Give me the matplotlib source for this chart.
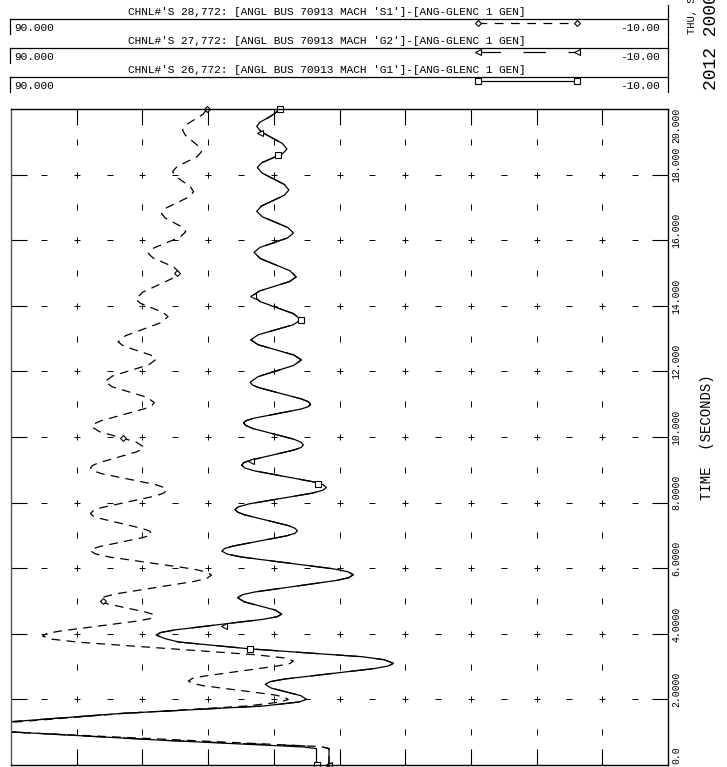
import matplotlib
matplotlib.use("Agg")
import matplotlib.pyplot as plt
from matplotlib.transforms import blended_transform_factory

W, H = 727, 767
MONO = "Liberation Mono"

# ---- channel 26: G1 (solid, squares) ; time [s] / angle [deg]
g1_t = [0.00, 0.50, 0.55, 0.75, 1.01, 1.16, 1.32, 1.57, 1.80, 1.92, 2.00,
        2.115, 2.23, 2.345, 2.46, 2.54, 2.62, 2.78, 2.94, 3.02, 3.10, 3.21, 3.30,
        3.54, 3.75, 3.85, 3.96, 4.04, 4.12, 4.28, 4.44, 4.52, 4.60, 4.725, 4.85,
        4.975, 5.10, 5.19, 5.275, 5.45, 5.625, 5.71, 5.80, 5.89, 5.98, 6.16, 6.34,
        6.43, 6.52, 6.60, 6.675, 6.83, 6.985, 7.06, 7.14, 7.22, 7.30, 7.465, 7.63,
        7.71, 7.79, 7.87, 7.96, 8.125, 8.29, 8.38, 8.46, 8.545, 8.63, 8.80, 8.97,
        9.055, 9.14, 9.22, 9.295, 9.45, 9.605, 9.68, 9.76, 9.84, 9.93, 10.095,
        10.26, 10.35, 10.43, 10.50, 10.57, 10.71, 10.85, 10.92, 10.99, 11.075,
        11.16, 11.33, 11.50, 11.585,
        11.67, 11.84, 12.01, 12.18, 12.35, 12.50, 12.655, 12.81, 12.96, 13.115,
        13.27, 13.425, 13.58, 13.76, 13.945, 14.13, 14.31, 14.45, 14.595, 14.74,
        14.88, 15.07, 15.255, 15.44, 15.63, 15.78, 15.925, 16.07, 16.22, 16.385,
        16.55, 16.715, 16.88, 17.04, 17.205, 17.37, 17.53, 17.70, 17.875, 18.05,
        18.22, 18.36, 18.50, 18.64, 18.78, 18.95, 19.125, 19.30, 19.47, 19.60,
        19.735, 19.87, 20.00]
g1_a = [43.5, 43.5, 45.5, 66.5, 90.0, 104.0, 90.0, 73.4, 51.5, 46.2, 45.0,
        45.9, 48.15, 50.4, 51.3, 50.56, 48.4, 41.55, 34.7, 32.54, 31.8, 33.2, 36.5,
        53.6, 64.5, 66.5, 67.9, 67.2, 65.0, 58.35, 51.7, 49.5, 48.8, 49.8, 52.15,
        54.5, 55.5, 54.8, 52.9, 46.7, 40.5, 38.6, 37.9, 38.7, 40.9, 47.9, 54.9,
        57.1, 57.9, 57.5, 56.2, 52.15, 48.1, 46.8, 46.4, 46.8, 47.8, 51.15, 54.5,
        55.5, 55.9, 55.4, 53.8, 48.95, 44.1, 42.5, 42.0, 42.5, 43.9, 48.45, 53.0,
        54.4, 54.9, 54.55, 53.5, 50.2, 46.9, 45.85, 45.5, 45.85, 46.9, 50.05,
        53.2, 54.25, 54.6, 54.2, 53.1, 49.5, 45.9, 44.8, 44.4, 44.75,
        45.8, 49.0, 52.2, 53.25,
        53.6, 52.4, 49.7, 47.0, 45.8, 46.95, 49.65, 52.35, 53.5, 52.4,
        49.7, 47.0, 45.9, 47.0, 49.55, 52.1, 53.2, 52.2, 49.9, 47.6,
        46.6, 47.55, 49.8, 52.05, 53.0, 52.1, 50.0, 47.9, 47.0, 47.85,
        49.8, 51.75, 52.6, 51.9, 50.15, 48.4, 47.7, 48.4, 50.1, 51.8,
        52.5, 51.85, 50.25, 48.65, 48.0, 48.7, 50.3, 51.9, 52.6, 52.1,
        50.85, 49.8, 49.1]
g1_mark_t = [0.00, 3.54, 8.57, 13.58, 18.59, 20.00]
g1_mark_a = [43.5, 53.6, 43.2, 45.9, 49.3, 49.1]

# ---- channel 27: G2 (long dash, triangles) - starts apart, then on top of G1
g2_t0 = [0.00, 0.50, 0.56]
g2_a0 = [41.6, 41.6, 42.8]
g2_mark_t = [0.00, 4.24, 9.27, 14.31, 19.28]
g2_mark_a = [41.6, 57.6, 53.4, 53.2, 52.1]

# ---- channel 28: S1 (dashed, diamonds)
s1_t = [0.00, 0.50, 0.56, 0.78, 1.00, 1.15, 1.30, 1.57, 1.80, 1.92, 2.00,
        2.07, 2.14, 2.28, 2.42, 2.49, 2.56, 2.64, 2.71, 2.865, 3.02, 3.09, 3.17,
        3.265, 3.36, 3.55, 3.74, 3.835, 3.93, 4.01, 4.08, 4.235, 4.39, 4.46, 4.54,
        4.60, 4.66, 4.785, 4.91, 4.97, 5.03, 5.125, 5.22, 5.41, 5.60, 5.695, 5.79,
        5.88, 5.975, 6.16, 6.345, 6.44, 6.53, 6.595, 6.66, 6.795, 6.93, 6.995, 7.06,
        7.135, 7.21, 7.365, 7.52, 7.595, 7.67, 7.76, 7.85, 8.025, 8.20, 8.29, 8.38,
        8.465, 8.55, 8.715, 8.88, 8.965, 9.05, 9.13, 9.21, 9.375, 9.54, 9.62, 9.70,
        9.85, 10.005, 10.16, 10.31, 10.40, 10.495, 10.68, 10.865, 10.96, 11.05,
        11.21, 11.37,
        11.53, 11.69, 11.86, 12.03, 12.20, 12.37, 12.50, 12.635, 12.77, 12.90,
        13.09, 13.285, 13.48, 13.67, 13.80, 13.935, 14.07, 14.20, 14.41, 14.62,
        14.83, 15.04, 15.18, 15.32, 15.46, 15.60, 15.765, 15.93, 16.095, 16.26,
        16.40, 16.54, 16.68, 16.82, 16.985, 17.15, 17.315, 17.48, 17.63, 17.785,
        17.94, 18.09, 18.24, 18.395, 18.55, 18.70, 18.865, 19.03, 19.195, 19.36,
        19.52, 19.68, 19.84, 20.00]
s1_a = [41.6, 41.6, 42.8, 66.0, 90.0, 104.0, 90.0, 73.0, 54.0, 49.0, 47.8,
        48.4, 50.0, 55.4, 60.8, 62.4, 63.0, 62.4, 60.6, 55.0, 49.4, 47.6, 47.0,
        48.45, 52.7, 66.1, 79.5, 83.75, 85.2, 84.55, 82.65, 76.7, 70.75, 68.85, 68.2,
        68.5, 69.45, 72.35, 75.25, 76.2, 76.5, 75.85, 73.95, 68.0, 62.05, 60.15, 59.5,
        60.2, 62.25, 68.7, 75.15, 77.2, 77.9, 77.55, 76.5, 73.25, 70.0, 68.95, 68.6,
        68.95, 70.0, 73.25, 76.5, 77.55, 77.9, 77.45, 76.15, 72.1, 68.05, 66.75, 66.3,
        66.75, 68.05, 72.1, 76.15, 77.45, 77.9, 77.6, 76.7, 73.85, 71.0, 70.1, 69.8,
        71.0, 73.75, 76.5, 77.7, 77.35, 76.3, 72.95, 69.6, 68.55, 68.2,
        69.3, 71.95,
        74.6, 75.7, 74.55, 71.8, 69.05, 67.9, 68.75, 70.8, 72.85, 73.7,
        72.55, 69.9, 67.25, 66.1, 66.85, 68.55, 70.25, 71.0, 70.0, 67.75,
        65.5, 64.5, 65.2, 66.8, 68.4, 69.1, 68.25, 66.25, 64.25, 63.4,
        63.95, 65.25, 66.55, 67.1, 66.35, 64.65, 62.95, 62.2, 62.7, 63.8,
        64.9, 65.4, 64.75, 63.2, 61.65, 61.0, 61.45, 62.45, 63.45, 63.9,
        63.35, 62.05, 60.75, 60.2]
s1_mark_t = [0.00, 5.00, 9.98, 14.99, 20.00]
s1_mark_a = [41.6, 76.0, 73.0, 64.8, 60.2]

time_ticks = [0, 2, 4, 6, 8, 10, 12, 14, 16, 18, 20]
time_labels = ["0.0", "2.0000", "4.0000", "6.0000", "8.0000", "10.000",
               "12.000", "14.000", "16.000", "18.000", "20.000"]
ang_ticks = [80, 70, 60, 50, 40, 30, 20, 10, 0]

channels = [
    "CHNL#'S 28,772: [ANGL BUS 70913 MACH 'S1']-[ANG-GLENC 1 GEN]",
    "CHNL#'S 27,772: [ANGL BUS 70913 MACH 'G2']-[ANG-GLENC 1 GEN]",
    "CHNL#'S 26,772: [ANGL BUS 70913 MACH 'G1']-[ANG-GLENC 1 GEN]",
]
scale_hi, scale_lo = "90.000", "-10.00"

fig = plt.figure(figsize=(W / 100, H / 100), dpi=100)

# header drawn in pixel units on a full-figure overlay
hdr = fig.add_axes([0, 0, 1, 1])
hdr.set_xlim(0, W)
hdr.set_ylim(H, 0)
hdr.axis("off")
lw = 0.9
for i, name in enumerate(channels):
    y0 = 19 + 29 * i
    hdr.plot([10, 668], [y0, y0], color="black", lw=lw)
    hdr.plot([10, 10], [y0, y0 + 15], color="black", lw=lw)
    hdr.plot([668, 668], [y0 - 14, y0 + 15], color="black", lw=lw)
    hdr.text(128, y0 - 2, name, fontsize=8, family=MONO, va="bottom")
    hdr.text(14, y0 + 9, scale_hi, fontsize=8, family=MONO, va="center")
    hdr.text(660, y0 + 9, scale_lo, fontsize=8, family=MONO, va="center", ha="right")

# legend samples
ly = [23, 52, 81]
hdr.plot([478, 577], [ly[0]] * 2, color="black", lw=lw, dashes=(7, 6))
hdr.plot([478, 577], [ly[0]] * 2, ls="none", marker="D", ms=3, mfc="white", mec="black", mew=0.8)
hdr.plot([478, 577], [ly[1]] * 2, color="black", lw=lw, dashes=(18, 18))
hdr.plot([478, 577], [ly[1]] * 2, ls="none", marker="<", ms=4, mfc="white", mec="black", mew=0.8)
hdr.plot([478, 577], [ly[2]] * 2, color="black", lw=lw)
hdr.plot([478, 577], [ly[2]] * 2, ls="none", marker="s", ms=4, mfc="white", mec="black", mew=0.8)

hdr.text(692, 34, "THU, SEP", fontsize=7.5, family=MONO, rotation=90,
         ha="center", va="bottom")
hdr.text(712, 90, "2012 2000", fontsize=13, family=MONO, rotation=90,
         ha="center", va="bottom")

# main plot: time vertical, angle horizontal
ax = fig.add_axes([11 / W, (H - 765) / H, 657 / W, 656 / H])
ax.set_xlim(90, -10)
ax.set_ylim(0, 20)
for sp in ax.spines.values():
    sp.set_linewidth(1.0)
ax.spines["left"].set_color("#555555")
ax.set_xticks(ang_ticks)
ax.set_yticks(time_ticks[1:-1])
ax.tick_params(direction="in", length=11.5, width=0.8, top=True, right=True,
               labelbottom=False, labelleft=False)

# grid marks
for t in range(2, 20, 2):
    ax.plot(ang_ticks, [t] * len(ang_ticks), ls="none", marker="+", ms=4, mew=0.7, color="black")
    ax.plot([a - 5 for a in ang_ticks] + [85], [t] * (len(ang_ticks) + 1), ls="none",
            marker="_", ms=4, mew=0.7, color="black")
for t in range(1, 20, 2):
    ax.plot(ang_ticks, [t] * len(ang_ticks), ls="none", marker="|", ms=4, mew=0.7, color="black")

# curves
ax.plot(s1_a, s1_t, color="black", lw=0.9, dashes=(7, 5))
g2_a = g2_a0 + [a for a, t in zip(g1_a, g1_t) if t >= 0.75]
g2_t = g2_t0 + [t for t in g1_t if t >= 0.75]
ax.plot(g2_a, g2_t, color="black", lw=0.9, dashes=(18, 14))
ax.plot(g1_a, g1_t, color="black", lw=0.9)
ax.plot(s1_mark_a, s1_mark_t, ls="none", marker="D", ms=3, mfc="white", mec="black", mew=0.8, clip_on=False)
ax.plot(g2_mark_a, g2_mark_t, ls="none", marker="<", ms=4, mfc="white", mec="black", mew=0.8, clip_on=False)
ax.plot(g1_mark_a, g1_mark_t, ls="none", marker="s", ms=4, mfc="white", mec="black", mew=0.8, clip_on=False)

# time labels on the right
tr = blended_transform_factory(ax.transAxes, ax.transData)
for t, lab in zip(time_ticks, time_labels):
    yy = t - 0.5 if t == 20 else t + 0.3
    ax.text(1.0 + 8 / 657, yy, lab, transform=tr, rotation=90, fontsize=7,
            family=MONO, ha="center", va="center")
ax.text(1.0 + 39 / 657, 10.0, "TIME  (SECONDS)", transform=tr, rotation=90,
        fontsize=10, family=MONO, ha="center", va="center")

fig.savefig("out.png", dpi=100)
